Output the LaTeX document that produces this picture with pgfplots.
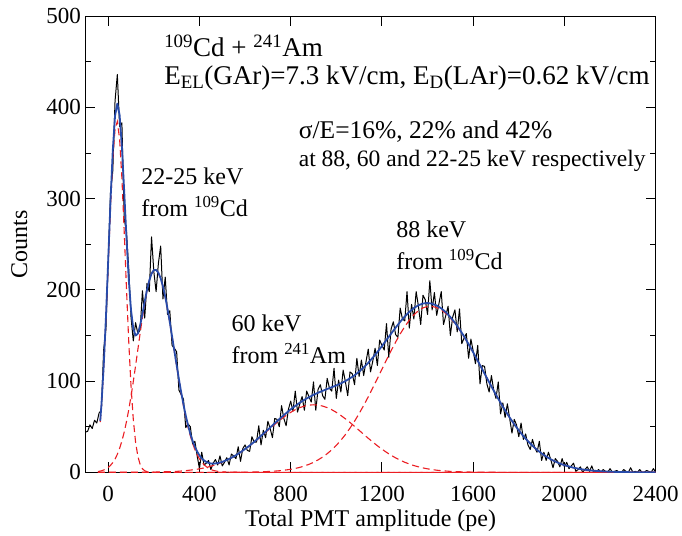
\documentclass[border=0pt]{standalone}
\usepackage{fontspec}
\setmainfont{Liberation Serif}
\usepackage{pgfplots}
\pgfplotsset{compat=1.18}
\definecolor{fitblue}{RGB}{40,75,170}
\definecolor{compred}{RGB}{235,30,35}

\begin{document}
\begin{tikzpicture}[font=\fontsize{24}{28}\selectfont]
\begin{axis}[
  scale only axis,
  width=570pt, height=456pt,
  xmin=-100, xmax=2400, ymin=0, ymax=500,
  xtick={0,400,...,2400}, ytick={0,100,...,500},
  xticklabel={\pgfmathprintnumber[assume math mode=true,1000 sep={}]{\tick}},
  yticklabel={\pgfmathprintnumber[assume math mode=true,1000 sep={}]{\tick}},
  minor y tick num=1,
  tick align=inside,
  major tick length=10pt, minor tick length=6pt,
  axis line style={line width=1.1pt},
  every tick/.style={black, line width=0.9pt},
  ticklabel style={font=\fontsize{23}{27}\selectfont},
  xticklabel shift=10pt,
  yticklabel shift=1pt,
  xlabel={Total PMT amplitude (pe)},
  ylabel={Counts},
  xlabel shift=2pt,
  ylabel shift=12pt,
  clip=true,
]

% measured spectrum
\addplot[black, line width=1.0pt, line join=round] coordinates {
(-100,44) (-90,45) (-80,52) (-70,48) (-60,57) (-50,54) (-40,65) (-30,68) (-20,134) (-10,157)
(0,230) (10,306) (20,330) (30,407) (40,436) (50,379) (60,383) (70,278) (80,264) (90,223)
(100,170) (110,144) (120,164) (130,152) (140,156) (150,199) (160,169) (170,207) (180,198) (190,258)
(200,220) (210,198) (220,229) (230,248) (240,190) (250,214) (260,173) (270,177) (280,139) (290,136)
(300,132) (310,90) (320,85) (330,80) (340,49) (350,53) (360,50) (370,31) (380,34) (390,18)
(400,4) (410,22) (420,8) (430,10) (440,13) (450,3) (460,10) (470,14) (480,8) (490,18)
(500,7) (510,11) (520,16) (530,8) (540,20) (550,18) (560,15) (570,28) (580,12) (590,26)
(600,30) (610,24) (620,23) (630,39) (640,33) (650,33) (660,51) (670,30) (680,46) (690,38)
(700,56) (710,48) (720,38) (730,59) (740,58) (750,50) (760,73) (770,59) (780,51) (790,69)
(800,78) (810,67) (820,89) (830,66) (840,75) (850,83) (860,68) (870,89) (880,83) (890,77)
(900,99) (910,68) (920,91) (930,96) (940,84) (950,80) (960,103) (970,92) (980,89) (990,114)
(1000,81) (1010,101) (1020,88) (1030,112) (1040,99) (1050,84) (1060,110) (1070,108) (1080,96) (1090,125)
(1100,105) (1110,123) (1120,106) (1130,121) (1140,135) (1150,110) (1160,122) (1170,136) (1180,117) (1190,145)
(1200,139) (1210,134) (1220,163) (1230,126) (1240,157) (1250,165) (1260,151) (1270,148) (1280,180) (1290,168)
(1300,166) (1310,198) (1320,158) (1330,184) (1340,168) (1350,198) (1360,182) (1370,162) (1380,194) (1390,189)
(1400,173) (1410,210) (1420,178) (1430,197) (1440,172) (1450,185) (1460,198) (1470,162) (1480,172) (1490,182)
(1500,150) (1510,170) (1520,178) (1530,154) (1540,179) (1550,141) (1560,147) (1570,152) (1580,125) (1590,146)
(1600,133) (1610,119) (1620,139) (1630,97) (1640,117) (1650,116) (1660,97) (1670,88) (1680,106) (1690,90)
(1700,81) (1710,99) (1720,64) (1730,76) (1740,60) (1750,75) (1760,59) (1770,43) (1780,58) (1790,52)
(1800,39) (1810,54) (1820,36) (1830,42) (1840,30) (1850,25) (1860,36) (1870,27) (1880,22) (1890,34)
(1900,13) (1910,22) (1920,13) (1930,22) (1940,14) (1950,5) (1960,15) (1970,12) (1980,6) (1990,15)
(2000,6) (2010,11) (2020,4) (2030,7) (2040,10) (2050,1) (2060,3) (2070,6) (2080,0) (2090,3)
(2100,6) (2110,1) (2120,7) (2130,0) (2140,1) (2150,3) (2160,0) (2170,3) (2180,1) (2190,0)
(2200,4) (2210,0) (2220,1) (2230,2) (2240,0) (2250,0) (2260,3) (2270,1) (2280,0) (2290,5)
(2300,0) (2310,1) (2320,0) (2330,3) (2340,0) (2350,0) (2360,2) (2370,1) (2380,0) (2390,4) (2400,0)
};

% fit components
\addplot[compred, line width=1.1pt, dash pattern=on 7pt off 4pt] coordinates {
(-35,55.0) (-30,71.1) (-20,112.7) (-10,166.0) (0,227.2) (10,289.1) (20,342.0) (30,376.1)
(40,384.4) (50,365.3) (60,322.6) (70,264.9) (80,202.1) (90,143.4) (100,94.6) (110,58.0)
(120,33.0) (130,17.5) (140,8.6) (150,3.9) (160,1.7) (170,0.7) (180,0.2) (200,0) (2400,0)
};
\addplot[compred, line width=1.1pt, dash pattern=on 7pt off 4pt] coordinates {
(-45,0.8) (-35,1.3) (-30,1.6) (-20,2.5) (-10,3.6) (0,5.3) (10,7.6) (20,10.6) (30,14.6) (40,19.7)
(50,26.2) (60,34.3) (70,43.9) (80,55.4) (90,68.5) (100,83.3) (110,99.5) (120,116.8)
(130,134.6) (140,152.5) (150,169.7) (160,185.4) (170,199.1) (180,210.0) (190,217.6)
(200,221.5) (210,221.6) (220,218.5) (230,212.3) (240,203.4) (250,192.1) (260,178.9)
(270,164.2) (280,148.5) (290,132.5) (300,116.5) (310,101.0) (320,86.3) (330,72.7)
(340,60.4) (350,49.4) (360,39.9) (370,31.7) (380,24.9) (390,19.3) (400,14.7) (420,8.2)
(440,4.3) (460,2.1) (480,1.0) (500,0.4) (540,0.1) (600,0) (2400,0)
};
\addplot[compred, line width=1.1pt, dash pattern=on 7pt off 4pt] coordinates {
(-45,0) (200,0.2) (300,1.0) (340,1.8) (380,3.0) (400,3.8) (420,4.8) (440,6.0) (460,7.4)
(480,9.1) (500,11.0) (520,13.3) (540,15.8) (560,18.7) (580,21.9) (600,25.4) (620,29.1)
(640,33.1) (660,37.3) (680,41.6) (700,46.0) (720,50.3) (740,54.6) (760,58.6) (780,62.3)
(800,65.7) (820,68.6) (840,70.9) (860,72.6) (880,73.6) (900,74.0) (920,73.6) (940,72.6)
(960,70.9) (980,68.6) (1000,65.7) (1020,62.3) (1040,58.6) (1060,54.6) (1080,50.3)
(1100,46.0) (1120,41.6) (1140,37.3) (1160,33.1) (1180,29.1) (1200,25.4) (1220,21.9)
(1240,18.7) (1260,15.8) (1280,13.3) (1300,11.0) (1320,9.1) (1340,7.4) (1360,6.0)
(1380,4.8) (1400,3.8) (1420,3.0) (1440,2.3) (1460,1.8) (1500,1.0) (1550,0.5) (1600,0.2)
(1700,0) (2400,0)
};
\addplot[compred, line width=1.1pt, dash pattern=on 7pt off 4pt] coordinates {
(-45,0) (500,0) (600,0.15) (640,0.3) (680,0.6) (720,1.1) (760,1.9) (800,3.3) (820,4.2)
(840,5.4) (860,6.9) (880,8.7) (900,10.9) (920,13.6) (940,16.7) (960,20.4) (980,24.6)
(1000,29.5) (1020,35.1) (1040,41.4) (1060,48.4) (1080,56.0) (1100,64.4) (1120,73.3)
(1140,82.7) (1160,92.6) (1180,102.7) (1200,112.9) (1220,123.2) (1240,133.2) (1260,142.7)
(1280,151.6) (1300,159.7) (1320,166.7) (1340,172.6) (1360,177.1) (1380,180.2) (1400,181.8)
(1420,181.8) (1440,180.5) (1460,177.9) (1480,174.1) (1500,169.1) (1520,163.1) (1540,156.2)
(1560,148.5) (1580,140.1) (1600,131.3) (1620,122.1) (1640,112.7) (1660,103.3) (1680,94.1)
(1700,85.0) (1720,76.2) (1740,67.9) (1760,60.0) (1780,52.7) (1800,45.9) (1820,39.7)
(1840,34.1) (1860,29.1) (1880,24.6) (1900,20.7) (1920,17.3) (1940,14.3) (1960,11.8)
(1980,9.6) (2000,7.8) (2040,5.0) (2080,3.1) (2120,1.9) (2160,1.1) (2200,0.6) (2250,0.3)
(2300,0.1) (2400,0)
};

% total fit
\addplot[fitblue, line width=1.8pt, line join=round] coordinates {
(-35,56.3) (-30,72.7) (-20,115.2) (-10,169.6) (0,232.5) (10,296.7) (20,352.6) (30,390.7)
(40,404.1) (50,391.5) (60,356.9) (70,308.8) (80,257.5) (90,211.9) (100,177.9) (110,157.5)
(120,149.8) (130,152.1) (140,161.1) (150,173.6) (160,187.1) (170,199.8) (180,210.2)
(190,217.8) (200,221.7) (210,221.8) (220,218.7) (230,212.6) (240,203.7) (250,192.4)
(260,179.3) (270,164.6) (280,149.0) (290,133.1) (300,117.5) (310,102.1) (320,87.6)
(330,74.3) (340,62.2) (350,51.5) (360,42.2) (370,34.4) (380,27.9) (390,22.7) (400,18.5)
(410,15.3) (420,13.0) (430,11.4) (440,10.3) (450,9.7) (460,9.5) (470,9.7) (480,10.1)
(490,10.7) (500,11.4) (520,13.5) (540,15.9) (560,18.7) (580,22.0) (600,25.6) (620,29.3)
(640,33.4) (660,37.7) (680,42.2) (700,46.8) (720,51.4) (740,56.1) (760,60.5) (780,64.8)
(800,69.0) (820,72.8) (840,76.3) (860,79.5) (880,82.3) (900,84.9) (920,87.2) (940,89.3)
(960,91.3) (980,93.2) (1000,95.2) (1020,97.4) (1040,100.0) (1060,103.0) (1080,106.3)
(1100,110.4) (1120,114.9) (1140,120.0) (1160,125.7) (1180,131.8) (1200,138.3) (1220,145.1)
(1240,151.9) (1260,158.5) (1280,164.9) (1300,170.7) (1320,175.8) (1340,180.0) (1360,183.1)
(1380,185.0) (1400,185.6) (1420,184.8) (1440,182.8) (1460,179.7) (1480,175.5) (1500,170.1)
(1520,163.9) (1540,156.8) (1560,149.0) (1580,140.4) (1600,131.5) (1620,122.2) (1640,112.8)
(1660,103.4) (1680,94.1) (1700,85.0) (1720,76.2) (1740,67.9) (1760,60.0) (1780,52.7)
(1800,45.9) (1820,39.7) (1840,34.1) (1860,29.1) (1880,24.6) (1900,20.7) (1920,17.3)
(1940,14.3) (1960,11.8) (1980,9.6) (2000,7.8) (2040,5.0) (2080,3.1) (2120,1.9) (2160,1.1)
(2200,0.6) (2250,0.3) (2300,0.1) (2400,0.0)
};

% annotations
\node[anchor=base west, inner sep=0pt, font=\fontsize{27}{31}\selectfont] at (axis cs:245,456) {\textsuperscript{109}Cd + \textsuperscript{241}Am};
\node[anchor=base west, inner sep=0pt, font=\fontsize{27}{31}\selectfont] at (axis cs:245,425) {E\textsubscript{EL}(GAr)=7.3 kV/cm, E\textsubscript{D}(LAr)=0.62 kV/cm};
\node[anchor=base west, inner sep=0pt, font=\fontsize{25.5}{30}\selectfont] at (axis cs:835,366) {σ/E=16\%, 22\% and 42\%};
\node[anchor=base west, inner sep=0pt, font=\fontsize{23.5}{27}\selectfont] at (axis cs:835,335) {at 88, 60 and 22-25 keV respectively};
\node[anchor=base west, inner sep=0pt] at (axis cs:145,315) {22-25 keV};
\node[anchor=base west, inner sep=0pt] at (axis cs:145,280) {from \textsuperscript{109}Cd};
\node[anchor=base west, inner sep=0pt] at (axis cs:540,154) {60 keV};
\node[anchor=base west, inner sep=0pt] at (axis cs:540,119) {from \textsuperscript{241}Am};
\node[anchor=base west, inner sep=0pt] at (axis cs:1262,257) {88 keV};
\node[anchor=base west, inner sep=0pt] at (axis cs:1262,222) {from \textsuperscript{109}Cd};
\end{axis}
% a little blank margin on the left and at the top, as in the original
\path (current bounding box.north west) ++(-8pt,5pt) coordinate (pad);
\path (pad) rectangle (current bounding box.south west);
\end{tikzpicture}
\end{document}
